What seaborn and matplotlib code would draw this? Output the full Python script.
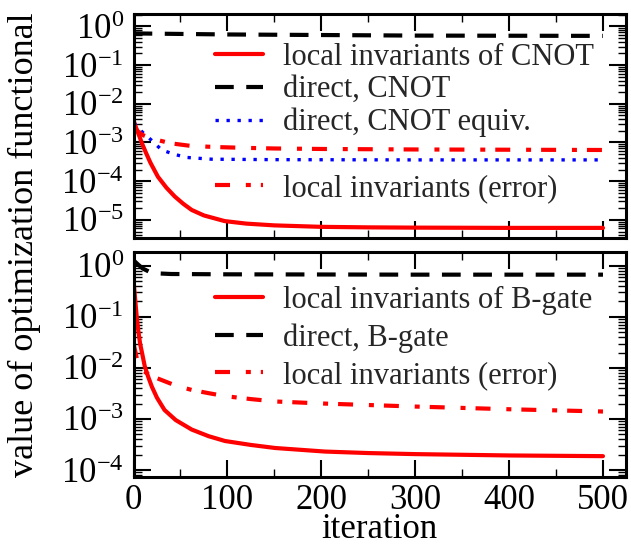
import numpy as np
import pandas as pd
import matplotlib
matplotlib.use("Agg")
import matplotlib.pyplot as plt
import seaborn as sns
from matplotlib.ticker import LogLocator, FuncFormatter, MultipleLocator, NullFormatter
from matplotlib.lines import Line2D

# ---- CNOT optimisation (upper panel) ----
cnot_li_iter = [0, 3, 6, 9, 13, 18, 26, 35, 44, 53, 62, 75, 97, 120, 150, 200, 250, 300, 400, 500]
cnot_li_val = [3.8e-3, 2.3e-3, 1.5e-3, 9.5e-4, 5.6e-4, 3.0e-4, 1.3e-4, 6.8e-5, 4.0e-5, 2.6e-5,
               1.8e-5, 1.3e-5, 9.3e-6, 8.0e-6, 7.2e-6, 6.6e-6, 6.4e-6, 6.3e-6, 6.2e-6, 6.2e-6]

cnot_direct_iter = [0, 100, 200, 300, 400, 500]
cnot_direct_val = [0.66, 0.62, 0.60, 0.58, 0.575, 0.57]

cnot_equiv_iter = [0, 10, 19, 30, 44, 57, 83, 150, 300, 500]
cnot_equiv_val = [3.2e-3, 1.8e-3, 1.15e-3, 6.4e-4, 4.9e-4, 4.1e-4, 3.7e-4, 3.6e-4, 3.55e-4, 3.55e-4]

cnot_err_iter = [0, 5, 10, 18, 26, 40, 62, 90, 115, 150, 200, 300, 400, 500]
cnot_err_val = [2.6e-3, 1.9e-3, 1.55e-3, 1.3e-3, 1.15e-3, 9.5e-4, 8.1e-4, 7.6e-4, 7.3e-4,
                7.0e-4, 6.8e-4, 6.6e-4, 6.5e-4, 6.4e-4]

# ---- B-gate optimisation (lower panel) ----
bgate_li_iter = [0, 1.5, 3.4, 5, 7, 9.5, 12, 15.5, 19.5, 25, 33, 45, 62, 80, 97.5, 125, 151,
                 204, 250, 300, 400, 500]
bgate_li_val = [0.52, 0.25, 0.1, 0.055, 0.03, 0.018, 0.0107, 6.8e-3, 4.3e-3, 2.6e-3, 1.5e-3,
                9.5e-4, 6.2e-4, 4.6e-4, 3.7e-4, 3.1e-4, 2.7e-4, 2.3e-4, 2.15e-4, 2.05e-4,
                1.93e-4, 1.87e-4]

bgate_direct_iter = [0, 5, 10, 17, 25, 40, 100, 300, 500]
bgate_direct_val = [1.28, 1.05, 0.88, 0.76, 0.71, 0.69, 0.68, 0.67, 0.67]

bgate_err_iter = [0, 4, 8, 14, 22, 33, 45, 62, 80, 97.5, 125, 151, 204, 300, 400, 500]
bgate_err_val = [0.03, 0.014, 9.5e-3, 7.9e-3, 6.6e-3, 5.5e-3, 4.5e-3, 3.7e-3, 3.2e-3, 2.8e-3,
                 2.45e-3, 2.2e-3, 2.0e-3, 1.75e-3, 1.55e-3, 1.4e-3]

top_labels = ["local invariants of CNOT", "direct, CNOT", "direct, CNOT equiv.",
              "local invariants (error)"]
bot_labels = ["local invariants of B-gate", "direct, B-gate", "local invariants (error)"]

sns.set_theme(style="ticks")
plt.rcParams["font.family"] = ["Liberation Serif", "DejaVu Serif"]
plt.rcParams["mathtext.fontset"] = "custom"
plt.rcParams["mathtext.rm"] = "Liberation Serif"

RED = "#ff0000"
BLUE = "#0000ff"
BLACK = "#000000"
LW = 3.0
SOLID = "-"
DASHED = (0, (4.5, 3.0))
DOTTED = (0, (1.0, 2.3))
DASHDOT = (0, (3.6, 3.8, 1.2, 2.4))

fig = plt.figure(figsize=(6.31, 5.5), dpi=100)
ax_top = fig.add_axes([0.2116, 0.5673, 0.7797, 0.4073])
ax_bot = fig.add_axes([0.2116, 0.1327, 0.7797, 0.4091])


def draw(ax, x, y, color, ls, lw=LW):
    sns.lineplot(x=x, y=y, ax=ax, color=color, linestyle=ls, linewidth=lw,
                 estimator=None, sort=False, legend=False)
    return ax.get_lines()[-1]


h1 = draw(ax_top, cnot_li_iter, cnot_li_val, RED, SOLID)
h2 = draw(ax_top, cnot_direct_iter, cnot_direct_val, BLACK, DASHED)
h3 = draw(ax_top, cnot_equiv_iter, cnot_equiv_val, BLUE, DOTTED, lw=2.4)
h4 = draw(ax_top, cnot_err_iter, cnot_err_val, RED, DASHDOT)

g1 = draw(ax_bot, bgate_li_iter, bgate_li_val, RED, SOLID)
g2 = draw(ax_bot, bgate_direct_iter, bgate_direct_val, BLACK, DASHED)
g3 = draw(ax_bot, bgate_err_iter, bgate_err_val, RED, DASHDOT)

dec_fmt = FuncFormatter(lambda v, p: r"$\mathregular{10^{%d}}$" % int(round(np.log10(v))))

for ax in (ax_top, ax_bot):
    ax.set_yscale("log")
    ax.set_xlim(0, 524)
    ax.xaxis.set_major_locator(MultipleLocator(100))
    ax.xaxis.set_minor_locator(MultipleLocator(50))
    ax.yaxis.set_major_locator(LogLocator(base=10, numticks=20))
    ax.yaxis.set_minor_locator(LogLocator(base=10, subs=np.arange(2, 10), numticks=100))
    ax.yaxis.set_major_formatter(dec_fmt)
    ax.yaxis.set_minor_formatter(NullFormatter())
    ax.tick_params(which="both", direction="in", top=True, right=True, colors="black")
    ax.tick_params(which="major", length=12, width=1.5, labelsize=25, pad=7)
    ax.tick_params(which="minor", length=5.8, width=1.0)
    for sp in ax.spines.values():
        sp.set_linewidth(2.2)
        sp.set_color("black")
    ax.set_xlabel("")
    ax.set_ylabel("")

ax_top.set_ylim(3.4e-6, 2.1)
ax_bot.set_ylim(7.3e-5, 1.86)
ax_top.tick_params(axis="x", labelbottom=False)
ax_bot.tick_params(axis="x", pad=5)
ax_bot.set_xlabel("iteration", fontsize=25, labelpad=-3, color="black")

blank = Line2D([], [], linestyle="none")
ax_top.legend([h1, h2, h3, blank, h4],
              [top_labels[0], top_labels[1], top_labels[2], "", top_labels[3]],
              loc="upper left", bbox_to_anchor=(0.1657, 0.872), frameon=False,
              fontsize=22, handlelength=1.57, handletextpad=0.65, labelspacing=0.12,
              borderpad=0, borderaxespad=0)
ax_bot.legend([g1, g2, g3], bot_labels,
              loc="upper left", bbox_to_anchor=(0.1657, 0.851), frameon=False,
              fontsize=22, handlelength=1.57, handletextpad=0.65, labelspacing=0.28,
              borderpad=0, borderaxespad=0)

fig.text(0.038, 0.5545, "value of optimization functional", rotation=90,
         va="center", ha="center", fontsize=26, color="black")

fig.savefig("out.png", dpi=100, facecolor="white")
